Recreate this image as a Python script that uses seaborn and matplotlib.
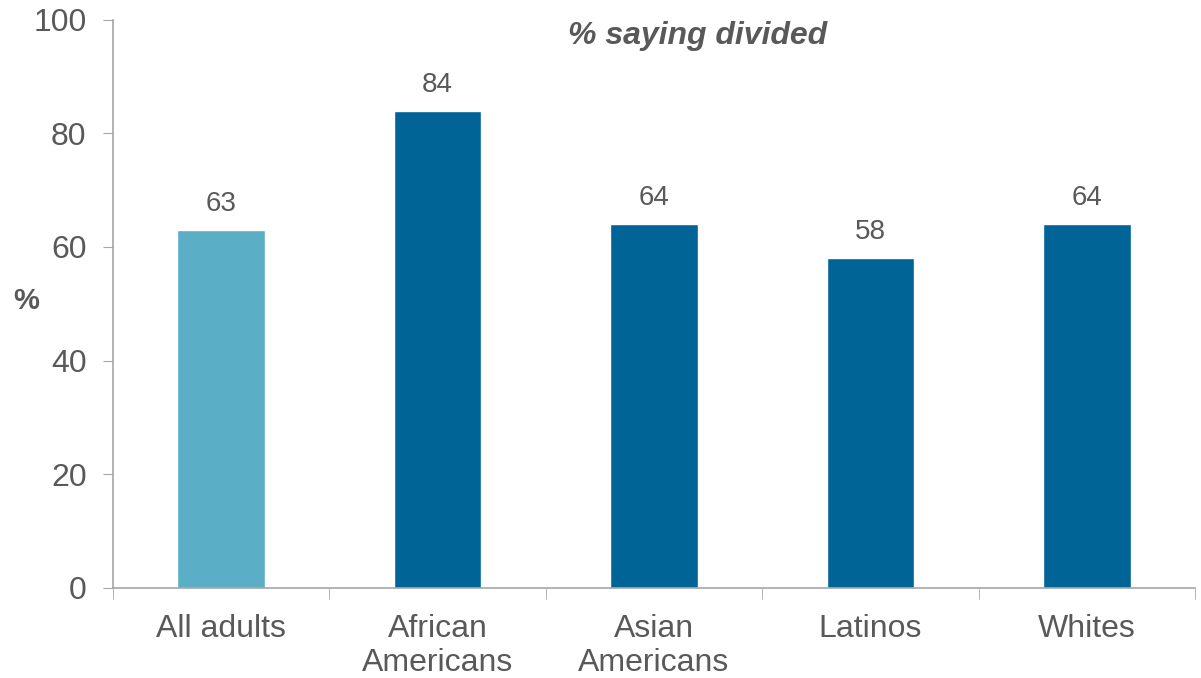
import matplotlib
matplotlib.use("Agg")
import matplotlib.pyplot as plt
import seaborn as sns
import pandas as pd

categories = ["All adults", "African\nAmericans", "Asian\nAmericans", "Latinos", "Whites"]
values = [63, 84, 64, 58, 64]
bar_colors = ["#5aaec6", "#006496", "#006496", "#006496", "#006496"]

sns.set_style("white")
plt.rcParams["font.family"] = ["Liberation Sans", "DejaVu Sans"]
text_color = "#595959"
spine_color = "#a6a6a6"

df = pd.DataFrame({"group": categories, "pct": values})

fig = plt.figure(figsize=(12.01, 6.78), dpi=100)
ax = fig.add_axes([0.094, 0.133, 0.901, 0.838])

sns.barplot(data=df, x="group", y="pct", hue="group", palette=bar_colors,
            width=0.405, legend=False, ax=ax, saturation=1)

for i, v in enumerate(values):
    ax.text(i, v + 2.3, str(v), ha="center", va="bottom", fontsize=20, color=text_color)

ax.set_ylim(0, 100)
ax.set_xlim(-0.5, 4.5)
ax.set_yticks(range(0, 101, 20))
ax.tick_params(axis="y", labelsize=23, colors=text_color, length=7, color=spine_color,
               left=True, pad=12)
ax.tick_params(axis="x", which="major", labelsize=23, colors=text_color, length=0, pad=19)
ax.set_xticks([-0.5, 0.5, 1.5, 2.5, 3.5, 4.5], minor=True)
ax.tick_params(axis="x", which="minor", length=8, color=spine_color, bottom=True)
for lbl in ax.get_xticklabels():
    lbl.set_linespacing(1.17)

ax.set_xlabel("")
ax.set_ylabel("%", rotation=0, fontsize=21, fontweight="bold", color=text_color)
ax.yaxis.set_label_coords(-0.08, 0.48)

for s in ["top", "right"]:
    ax.spines[s].set_visible(False)
for s in ["left", "bottom"]:
    ax.spines[s].set_color(spine_color)
    ax.spines[s].set_linewidth(1.2)

ax.text(2.2, 99.7, "% saying divided", ha="center", va="top", fontsize=23,
        fontweight="bold", fontstyle="italic", color=text_color)

fig.savefig("out.png", dpi=100)
